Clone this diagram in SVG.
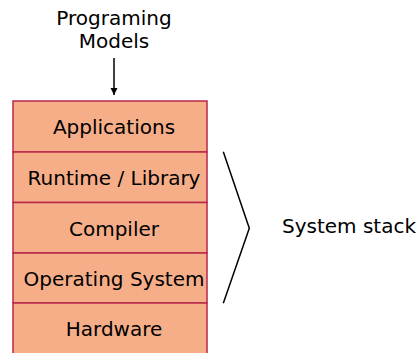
<svg xmlns="http://www.w3.org/2000/svg" width="417" height="353" viewBox="0 0 417 353">
<style>
text{font-family:"DejaVu Sans",sans-serif;font-size:20px;fill:#000;text-anchor:middle}
.layer{fill:#f6ae89;stroke:#b8284b;stroke-width:1.5}
.line{fill:none;stroke:#000;stroke-width:1.5}
</style>
<defs>
<marker id="ah" viewBox="0 0 10 10" refX="10" refY="5" markerWidth="7" markerHeight="10" markerUnits="userSpaceOnUse" orient="auto">
<path d="M0,0 L10,5 L0,10 z" fill="#000"/>
</marker>
</defs>
<rect width="417" height="353" fill="#fff"/>
<g id="programming-models">
<text x="114" y="25">Programing</text>
<text x="114" y="48">Models</text>
</g>
<g id="applications">
<rect class="layer" x="13" y="101" width="194" height="51"/>
<text x="114" y="134">Applications</text>
</g>
<g id="runtime">
<rect class="layer" x="13" y="152" width="194" height="50.5"/>
<text x="114" y="185">Runtime / Library</text>
</g>
<g id="compiler">
<rect class="layer" x="13" y="202.5" width="194" height="50.5"/>
<text x="114" y="236">Compiler</text>
</g>
<g id="os">
<rect class="layer" x="13" y="253" width="194" height="50"/>
<text x="114" y="286">Operating System</text>
</g>
<g id="hardware">
<rect class="layer" x="13" y="303" width="194" height="52"/>
<text x="114" y="336">Hardware</text>
</g>
<g id="system-stack">
<text x="282" y="233" style="text-anchor:start">System stack</text>
</g>
<g id="connectors">
<line class="line" x1="114" y1="58" x2="114" y2="95" marker-end="url(#ah)"/>
<polyline class="line" points="223.3,151.7 249.3,228.3 223.3,303.3"/>
</g>
</svg>
